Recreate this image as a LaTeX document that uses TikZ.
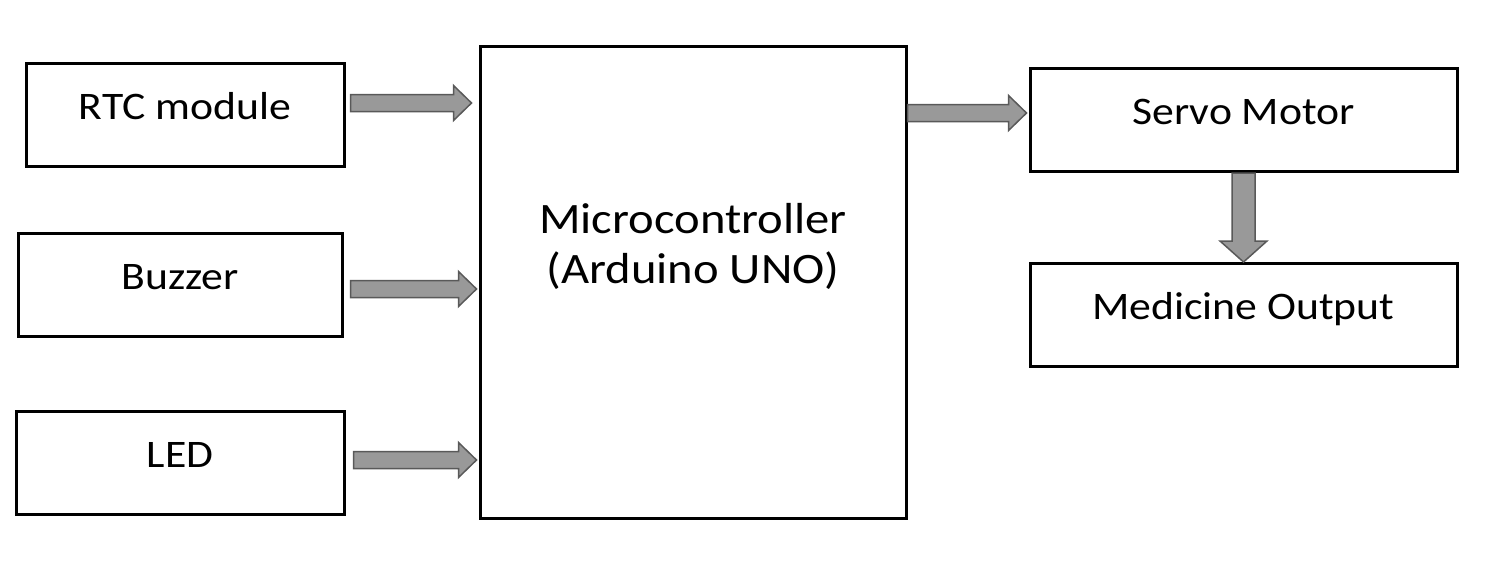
\documentclass[tikz,border=0pt]{standalone}
\usepackage{fontspec}
\setmainfont{Carlito}[FakeStretch=1.12]
\usetikzlibrary{calc}
\newlength\shw \setlength\shw{4.25pt}
\newlength\hdw \setlength\hdw{8.75pt}
\newlength\hdl \setlength\hdl{9pt}
\newlength\vshw \setlength\vshw{5.75pt}
\newlength\vhdw \setlength\vhdw{11.75pt}
\newlength\vhdl \setlength\vhdl{10.5pt}
\newcommand\hblockarrow[2]{%
  \path[blockarrow] let \p1=(#1), \p2=(#2) in
    (\x1,\y1+\shw) -- (\x2-\hdl,\y1+\shw) -- (\x2-\hdl,\y1+\hdw) -- (\x2,\y1)
    -- (\x2-\hdl,\y1-\hdw) -- (\x2-\hdl,\y1-\shw) -- (\x1,\y1-\shw) -- cycle;}
\newcommand\vblockarrow[2]{%
  \path[blockarrow] let \p1=(#1), \p2=(#2) in
    (\x1+\vshw,\y1) -- (\x1+\vshw,\y2+\vhdl) -- (\x1+\vhdw,\y2+\vhdl) -- (\x1,\y2)
    -- (\x1-\vhdw,\y2+\vhdl) -- (\x1-\vshw,\y2+\vhdl) -- (\x1-\vshw,\y1) -- cycle;}
\tikzset{
  box/.style={draw, line width=1.5pt, inner sep=0pt, text height=28pt, text depth=23.5pt,
    font=\fontsize{19.5}{23}\selectfont},
  bigbox/.style={draw, line width=1.5pt, inner sep=0pt, align=center,
    font=\fontsize{21.7}{25}\selectfont, text height=118.5pt, text depth=117.5pt},
  blockarrow/.style={fill=black!40, draw=black!65, line width=0.75pt, line join=miter}
}
\begin{document}
\begin{tikzpicture}[x=0.5pt, y=-0.5pt]
\useasboundingbox (0,0) rectangle (1501,568);
\fill[white] (0,0) rectangle (1501,568);
\node[box, minimum width=159pt] (rtc) at (185,114.5) {RTC module};
\node[box, minimum width=162pt] (buz) at (180,284.5) {Buzzer};
\node[box, minimum width=164pt] (led) at (180,463) {LED};
\node[bigbox, minimum width=213pt] (mcu) at (693,282) {Microcontroller\\(Arduino UNO)};
\node[box, minimum width=213.5pt] (servo) at (1243.5,120) {Servo Motor};
\node[box, minimum width=213.5pt] (med) at (1243.5,315) {Medicine Output};
\coordinate (a1) at ($(rtc.east)+(5,-11.5)$);
\coordinate (b1) at ($(mcu.west|-a1)+(-7,0)$);
\coordinate (a2) at ($(buz.east)+(7,4.5)$);
\coordinate (b2) at ($(mcu.west|-a2)+(-2,0)$);
\coordinate (a3) at ($(led.east)+(8,-3)$);
\coordinate (b3) at ($(mcu.west|-a3)+(-2,0)$);
\coordinate (b4) at ($(servo.west)+(-2,-7)$);
\coordinate (a4) at (mcu.east|-b4);
\hblockarrow{a1}{b1}
\hblockarrow{a2}{b2}
\hblockarrow{a3}{b3}
\hblockarrow{a4}{b4}
\vblockarrow{servo.south}{med.north}
\end{tikzpicture}
\end{document}
